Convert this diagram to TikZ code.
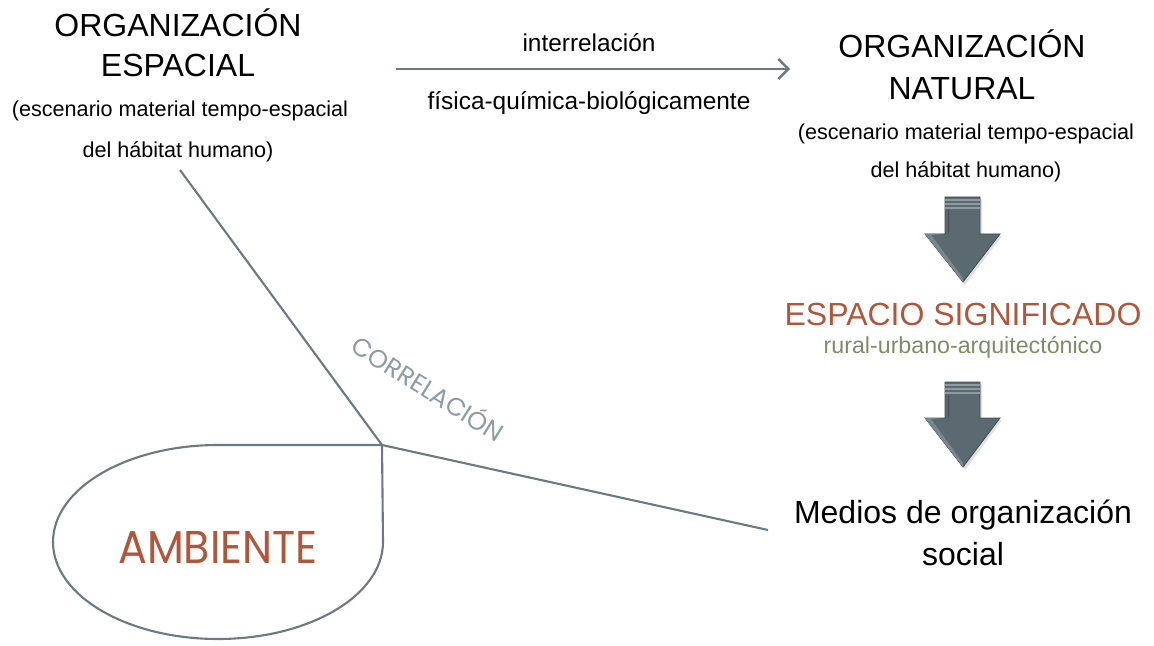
\documentclass[tikz,border=0pt]{standalone}
\usepackage{fontspec}
\setmainfont{Liberation Sans}
\newfontfamily\geofont{Poppins}
\usetikzlibrary{arrows.meta}
\definecolor{linec}{HTML}{6B7A80}
\definecolor{arrowc}{HTML}{5A6A70}
\definecolor{arrowd}{HTML}{3F4C51}
\definecolor{arrowl}{HTML}{8E9CA1}
\definecolor{brownc}{HTML}{B0563C}
\definecolor{olivec}{HTML}{7E8C66}
\definecolor{corrc}{HTML}{8C9CA3}
\tikzset{
  title/.style={font=\fontsize{16}{19}\selectfont, text=black, inner sep=0pt, anchor=base},
  sub/.style={font=\fontsize{10.8}{13}\selectfont, text=black, inner sep=0pt, anchor=base},
  mid/.style={font=\fontsize{12.2}{14}\selectfont, text=black, inner sep=0pt, anchor=base},
  conn/.style={draw=linec, line width=1.05pt},
  bigarrow/.style={fill=arrowc, draw=arrowd, line width=0.4pt},
}
\begin{document}
\begin{tikzpicture}[x=0.5pt,y=-0.5pt]
\useasboundingbox (0,0) rectangle (1154,646);
% left block
\node[title] (orgE1) at (178,37) {ORGANIZACIÓN};
\node[title] (orgE2) at (178,77) {ESPACIAL};
\node[sub] (orgE3) at (180,117) {(escenario material tempo-espacial};
\node[sub] (orgE4) at (178,158) {del hábitat humano)};
% middle
\node[mid] (inter) at (589,52) {interrelación};
\node[mid] (fisica) at (589,110) {física-química-biológicamente};
\coordinate (arrS) at (396,69);
\coordinate (arrE) at (790,69);
\draw[draw=linec, line width=1.2pt, -{Straight Barb[length=5pt,width=10pt,line width=1.2pt]}] (arrS) -- (arrE);
% right block
\node[title] (orgN1) at (962,58) {ORGANIZACIÓN};
\node[title] (orgN2) at (962,100) {NATURAL};
\node[sub] (orgN3) at (966,140) {(escenario material tempo-espacial};
\node[sub] (orgN4) at (966,178) {del hábitat humano)};
\node[title, text=brownc] (esp) at (963,325) {ESPACIO SIGNIFICADO};
\node[font=\fontsize{11.6}{14}\selectfont, text=olivec, inner sep=0pt, anchor=base] (rural) at (963,353) {rural-urbano-arquitectónico};
\node[title] (med1) at (963,523) {Medios de organización};
\node[title] (med2) at (963,565) {social};
% big down arrows
\foreach \t/\h/\b in {197/234/282, 382/418/467}{
  \fill[black!25, opacity=0.5] (947,\t+2) -- (982,\t+2) -- (982,\h+2) -- (1002,\h+2) -- (965,\b+3) -- (927,\h+2) -- (947,\h+2) -- cycle;
  \draw[bigarrow] (945,\t) -- (980,\t) -- (980,\h) -- (1000,\h) -- (963,\b) -- (925,\h) -- (945,\h) -- cycle;
  \fill[arrowl!60!arrowc] (945,\h) -- (925,\h) -- (963,\b) -- (963,\b-4) -- (931,\h+1) -- cycle;
  \draw[arrowl, line width=0.6pt] (945,\t+3) -- (980,\t+3);
  \draw[arrowl, line width=0.6pt] (945,\t+7) -- (980,\t+7);
  \draw[arrowl, line width=0.6pt] (945,\t+11) -- (980,\t+11);
  \draw[arrowd, line width=0.4pt] (948,\t+13) -- (948,\h);
}
% correlation lines
\coordinate (topEnd) at (180,170);
\coordinate (junc) at (382,445);
\coordinate (medEnd) at (768,530);
\draw[conn] (topEnd) -- (junc);
\draw[conn] (junc) -- (medEnd);
\node[font=\geofont\fontsize{12.6}{14}\selectfont, text=corrc, rotate=-32, inner sep=0pt] (corr) at (429,387) {CORRELACIÓN};
% ambiente drop shape
\draw[conn] (junc) -- (218,445) arc[start angle=90, end angle=360, x radius=82.5pt, y radius=48.5pt] -- cycle;
\node[font=\geofont\fontsize{23}{26}\selectfont, text=brownc, inner sep=0pt, anchor=base, xscale=0.93] (amb) at (218,563) {AMBIENTE};
\end{tikzpicture}
\end{document}
